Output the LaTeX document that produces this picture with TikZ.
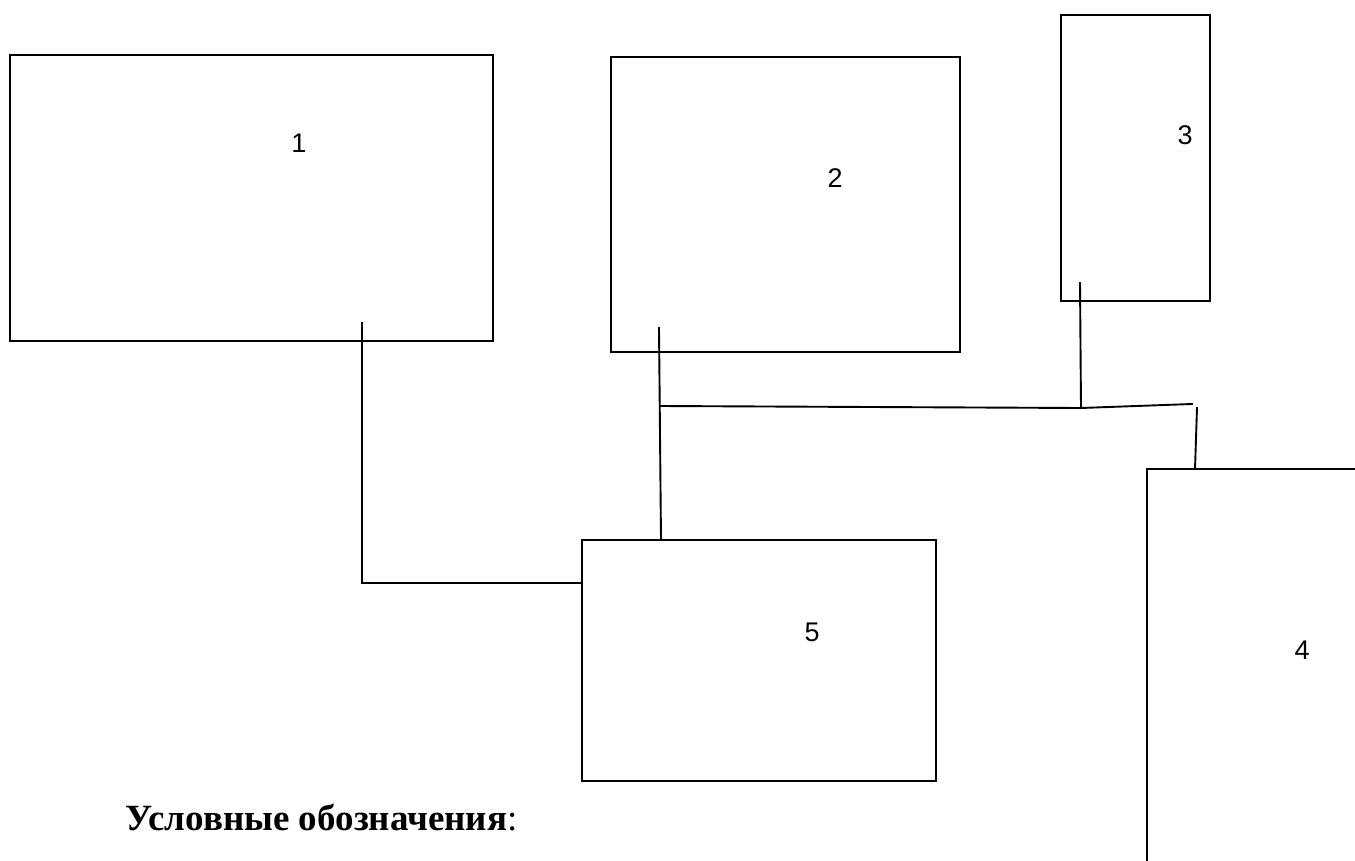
\documentclass[tikz,border=0pt]{standalone}
\usepackage{fontspec}
\setmainfont{Liberation Serif}
\newfontfamily\cifra{Liberation Sans}
\usetikzlibrary{positioning}
\tikzset{
  blok/.style={draw,line width=1.9pt,inner sep=0pt,outer sep=0pt,fill=none},
  szam/.style={font=\cifra\fontsize{27}{30}\selectfont,inner sep=0pt},
  vonal/.style={line width=1.9pt,line cap=rect},
  felirat/.style={font=\fontsize{37}{41}\selectfont,inner sep=0pt,anchor=base west},
}
\begin{document}
\begin{tikzpicture}[x=1pt,y=-1pt]
  \useasboundingbox (0,0) rectangle (1355,861);
  \clip (0,0) rectangle (1355,861);
  \fill[white] (0,0) rectangle (1355,861);
  % blokkok
  \node[blok,minimum width=483,minimum height=286] (b1) at (251.5,198) {};
  \node[blok,minimum width=349,minimum height=295] (b2) at (785.5,204.5) {};
  \node[blok,minimum width=149,minimum height=286] (b3) at (1135.5,158) {};
  \node[blok,minimum width=453,minimum height=531] (b4) at (1373.5,734.5) {};
  \node[blok,minimum width=354,minimum height=241] (b5) at (759,660.5) {};
  \node[szam] (n1) at (299,143) {1};
  \node[szam] (n2) at (835,178) {2};
  \node[szam] (n3) at (1185,135) {3};
  \node[szam] (n4) at (1302,650) {4};
  \node[szam] (n5) at (812,632) {5};
  % vonalak
  \coordinate (c1a) at (362,323);
  \coordinate (c1b) at (b5.west |- 0,583);
  \coordinate (c2a) at (659,328);
  \coordinate (c2b) at (661,540);
  \coordinate (c2m) at (660,406);
  \coordinate (c3a) at (1080,283);
  \coordinate (c3b) at (1081,408);
  \coordinate (c3e) at (1192,404);
  \coordinate (c4a) at (1197,408);
  \coordinate (c4b) at (1195,469);
  \draw[vonal] (c1a) |- (c1b);
  \draw[vonal] (c2a) -- (c2b);
  \draw[vonal] (c2m) -- (c3b) -- (c3e);
  \draw[vonal] (c3a) -- (c3b);
  \draw[vonal] (c4a) -- (c4b);
  \node[felirat] (jel) at (125,830) {\textbf{Условные обозначения}:};
\end{tikzpicture}
\end{document}
